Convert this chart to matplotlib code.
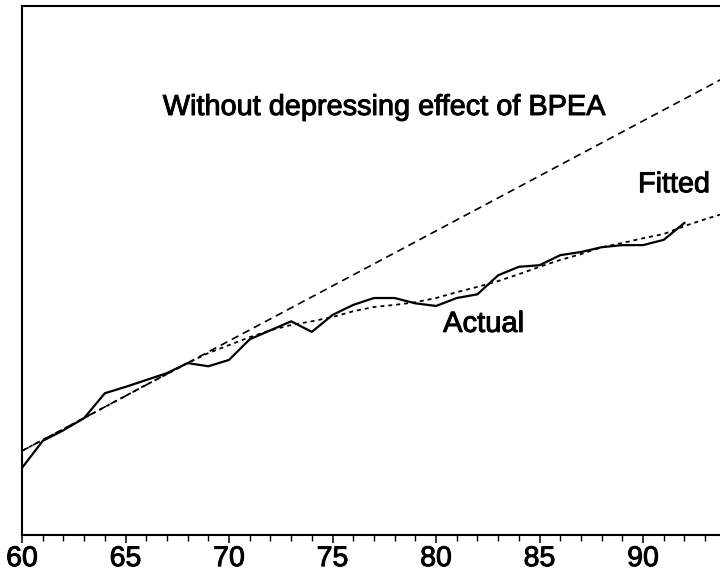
import numpy as np
import matplotlib
matplotlib.use('Agg')
import matplotlib.pyplot as plt
import matplotlib.patheffects as pe
from matplotlib.ticker import MultipleLocator

plt.rcParams['font.family'] = ['Liberation Sans', 'DejaVu Sans']

# actual series, 1960-1992
years_actual = list(range(60, 93))
actual = [12.7, 17.8, 19.8, 22.1, 26.8, 28.0, 29.3, 30.6, 32.5, 31.9,
          33.1, 37.0, 38.7, 40.4, 38.4, 41.6, 43.5, 44.8, 44.8, 43.8,
          43.3, 44.8, 45.5, 49.1, 50.7, 51.0, 52.9, 53.5, 54.4, 54.8,
          54.8, 55.8, 59.0]

# fitted series, 1960-1994
years_fitted = list(range(60, 95))
fitted = [15.9, 18.0, 20.0, 22.1, 24.2, 26.3, 28.4, 30.4, 32.5, 34.4,
          35.9, 37.4, 38.7, 39.7, 40.4, 41.2, 42.3, 43.1, 43.5, 44.0,
          44.8, 45.9, 46.9, 48.0, 49.3, 50.7, 52.0, 53.1, 54.4, 55.2,
          56.1, 56.9, 58.4, 59.7, 60.9]

# trend without the BPEA effect
years_trend = [60, 94]
trend = [15.9, 86.6]

# slightly heavier text, like the scanned original
heavy = [pe.withStroke(linewidth=0.7, foreground='black')]

fig = plt.figure(figsize=(7.2, 5.73), dpi=100)
ax = fig.add_axes([0.0306, 0.0663, 0.9775, 0.9232])

ax.plot(years_actual, actual, color='black', linewidth=1.6, linestyle='-')
ax.plot(years_fitted, fitted, color='black', linewidth=1.3, linestyle=(0, (2.2, 2.2)))
ax.plot(years_trend, trend, color='black', linewidth=1.2, linestyle=(0, (4.5, 3)))

ax.text(66.8, 79.4, 'Without depressing effect of BPEA', fontsize=20.8,
        va='baseline', ha='left', path_effects=heavy)
ax.text(89.76, 64.8, 'Fitted', fontsize=20.7, va='baseline', ha='left', path_effects=heavy)
ax.text(80.34, 38.4, 'Actual', fontsize=21, va='baseline', ha='left', path_effects=heavy)

ax.set_xlim(60, 94)
ax.set_ylim(0, 100)
ax.xaxis.set_major_locator(MultipleLocator(5))
ax.xaxis.set_minor_locator(MultipleLocator(1))
ax.set_yticks([])
ax.tick_params(axis='x', which='major', direction='out', length=6, width=1.1,
               labelsize=20.5, pad=2)
ax.tick_params(axis='x', which='minor', direction='out', length=4.5, width=1.0)
for lab in ax.get_xticklabels():
    lab.set_path_effects(heavy)
ax.spines['right'].set_visible(False)
for s in ['left', 'top', 'bottom']:
    ax.spines[s].set_linewidth(1.5)

fig.savefig('out.png', dpi=100)
